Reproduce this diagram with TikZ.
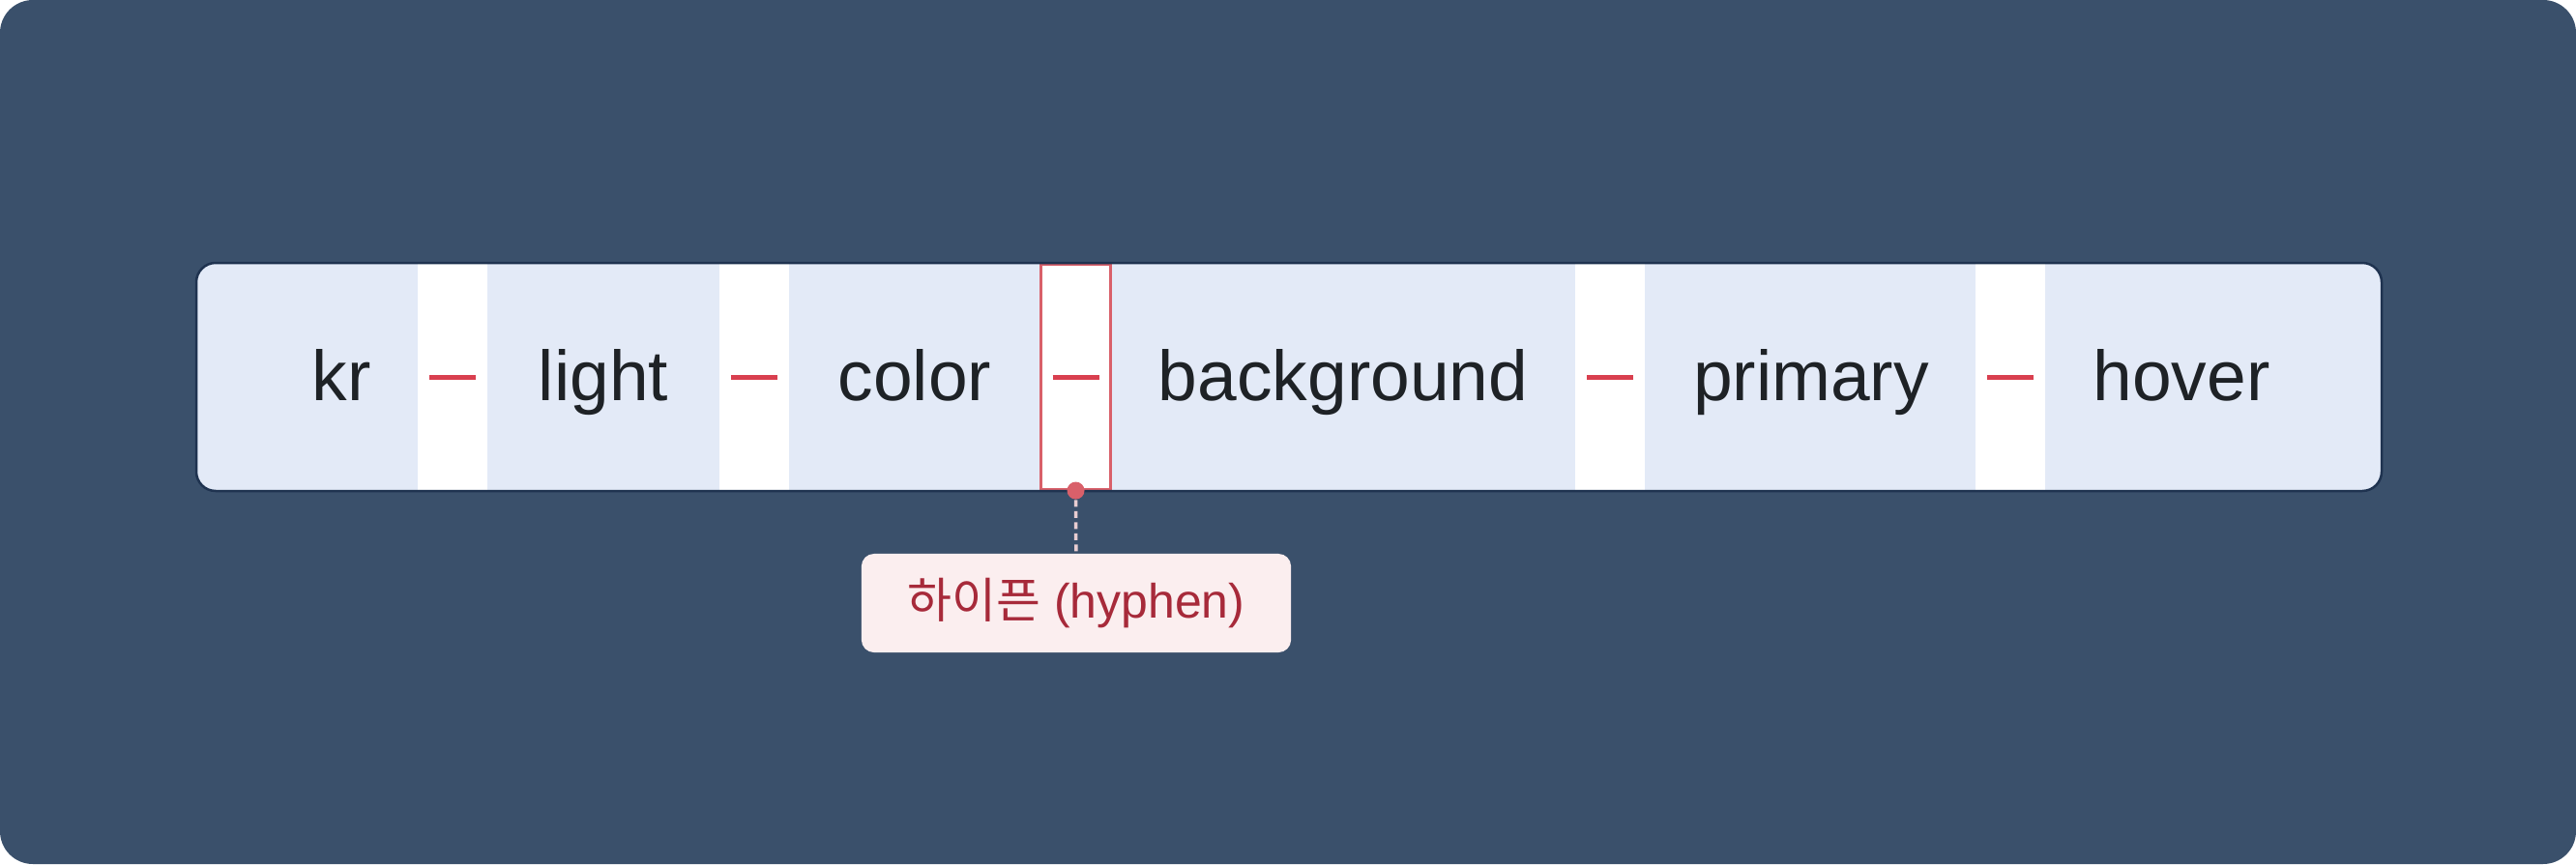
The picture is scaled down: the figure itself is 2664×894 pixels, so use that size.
\documentclass[tikz,border=0pt]{standalone}
\usepackage{fontspec}
\setmainfont{Liberation Sans}
\newfontfamily\hangul{Noto Sans CJK KR}
\usetikzlibrary{positioning}

\definecolor{pagebg}{HTML}{3A506B}
\definecolor{barline}{HTML}{1F3350}
\definecolor{segfill}{HTML}{E3EAF7}
\definecolor{wordcol}{HTML}{1E2226}
\definecolor{hyphred}{HTML}{D93F4F}
\definecolor{markred}{HTML}{D9606A}
\definecolor{tagfill}{HTML}{FBEEEF}
\definecolor{tagtext}{HTML}{A72A3A}
\definecolor{leadcol}{HTML}{E9CDD1}

\tikzset{
  word/.style={anchor=base, text=wordcol, inner sep=0pt,
    font=\fontsize{20.8}{25}\selectfont},
  gapcell/.style={fill=white, inner sep=0pt,
    minimum width=0.72cm, minimum height=2.34cm},
  hyph/.style={hyphred, line width=0.05cm},
  tagbox/.style={fill=tagfill, text=tagtext, rounded corners=0.13cm,
    minimum width=4.44cm, minimum height=1.02cm,
    font=\fontsize{14.2}{17}\selectfont},
}

\begin{document}
\begin{tikzpicture}[x=0.01cm, y=-0.01cm]
  \fill[pagebg, rounded corners=0.34cm] (0,0) rectangle (2664,894);
  \useasboundingbox (0,0) rectangle (2664,894);

  % the whole name
  \fill[segfill, rounded corners=0.2cm] (203,272) rectangle (2463,508);

  \node[gapcell] (g1) at (468,390) {};
  \node[gapcell] (g2) at (780,390) {};
  \node[gapcell, draw=markred, line width=0.03cm, minimum width=0.71cm,
        minimum height=2.32cm] (g3) at (1112.5,390) {};
  \node[gapcell] (g4) at (1665,390) {};
  \node[gapcell] (g5) at (2079,390) {};

  \foreach \g in {g1,g2,g3,g4,g5}
    \draw[hyph] ([xshift=-0.24cm]\g.center) -- ([xshift=0.24cm]\g.center);

  \draw[barline, line width=0.025cm, rounded corners=0.2cm]
    (203,272) rectangle (2463,508);

  \node[word] (kr) at (353,414) {kr};
  \node[word] (light) at (624,414) {light};
  \node[word] (color) at (946,414) {color};
  \node[word] (background) at (1389,414) {background};
  \node[word] (primary) at (1873,414) {primary};
  \node[word] (hover) at (2256,414) {hover};

  % label for the separator
  \node[tagbox] (tag) at (1113,624) {{\hangul 하이픈} (hyphen)};
  \node[circle, fill=markred, inner sep=0pt, minimum size=0.18cm] (pin)
    at (g3.south) {};
  \draw[leadcol, line width=0.035cm, dash pattern=on 0.07cm off 0.045cm]
    (pin) -- (tag);
\end{tikzpicture}
\end{document}
